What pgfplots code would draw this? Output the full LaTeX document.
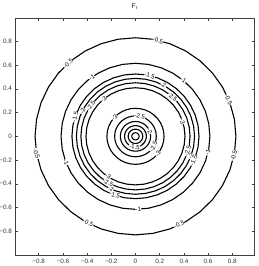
\documentclass[border=0pt]{standalone}
\usepackage{fontspec}
\setmainfont{Liberation Sans}
\usepackage{pgfplots}
\pgfplotsset{compat=1.18}
\usepackage{pgfplotstable}
\usetikzlibrary{calc}
\tikzset{lab/.style={font=\fontsize{6.1}{6.5}\selectfont, fill=white, inner sep=0.2pt, sloped, text=black}}

% contour rings: angle (deg) and radius of each level line
\pgfplotstableread{
a r1 r2 r3 r4 r5 r6 r7 r8 r9 r10 r11 r12
0 0.830 0.615 0.525 0.488 0.451 0.409 0.236 0.172 0.125 0.090 0.060 0.030
10 0.830 0.615 0.525 0.488 0.451 0.409 0.236 0.172 0.125 0.090 0.060 0.030
20 0.830 0.615 0.525 0.488 0.451 0.409 0.236 0.172 0.125 0.090 0.060 0.030
30 0.830 0.615 0.525 0.488 0.451 0.409 0.236 0.172 0.125 0.090 0.060 0.030
40 0.830 0.615 0.525 0.488 0.451 0.409 0.236 0.172 0.125 0.090 0.060 0.030
50 0.830 0.615 0.525 0.488 0.451 0.409 0.236 0.172 0.125 0.090 0.060 0.030
60 0.830 0.615 0.525 0.488 0.451 0.409 0.236 0.172 0.125 0.090 0.060 0.030
70 0.830 0.615 0.525 0.488 0.451 0.409 0.236 0.172 0.125 0.090 0.060 0.030
80 0.830 0.615 0.525 0.488 0.451 0.409 0.236 0.172 0.125 0.090 0.060 0.030
90 0.830 0.615 0.525 0.488 0.451 0.409 0.236 0.172 0.125 0.090 0.060 0.030
100 0.830 0.615 0.525 0.488 0.451 0.409 0.236 0.172 0.125 0.090 0.060 0.030
110 0.830 0.615 0.525 0.488 0.451 0.409 0.236 0.172 0.125 0.090 0.060 0.030
120 0.830 0.615 0.525 0.488 0.451 0.409 0.236 0.172 0.125 0.090 0.060 0.030
130 0.830 0.615 0.525 0.488 0.451 0.409 0.236 0.172 0.125 0.090 0.060 0.030
140 0.830 0.615 0.525 0.488 0.451 0.409 0.236 0.172 0.125 0.090 0.060 0.030
150 0.830 0.615 0.525 0.488 0.451 0.409 0.236 0.172 0.125 0.090 0.060 0.030
160 0.830 0.615 0.525 0.488 0.451 0.409 0.236 0.172 0.125 0.090 0.060 0.030
170 0.830 0.615 0.525 0.488 0.451 0.409 0.236 0.172 0.125 0.090 0.060 0.030
180 0.830 0.615 0.525 0.488 0.451 0.409 0.236 0.172 0.125 0.090 0.060 0.030
190 0.830 0.615 0.525 0.488 0.451 0.409 0.236 0.172 0.125 0.090 0.060 0.030
200 0.830 0.615 0.525 0.488 0.451 0.409 0.236 0.172 0.125 0.090 0.060 0.030
210 0.830 0.615 0.525 0.488 0.451 0.409 0.236 0.172 0.125 0.090 0.060 0.030
220 0.830 0.615 0.525 0.488 0.451 0.409 0.236 0.172 0.125 0.090 0.060 0.030
230 0.830 0.615 0.525 0.488 0.451 0.409 0.236 0.172 0.125 0.090 0.060 0.030
240 0.830 0.615 0.525 0.488 0.451 0.409 0.236 0.172 0.125 0.090 0.060 0.030
250 0.830 0.615 0.525 0.488 0.451 0.409 0.236 0.172 0.125 0.090 0.060 0.030
260 0.830 0.615 0.525 0.488 0.451 0.409 0.236 0.172 0.125 0.090 0.060 0.030
270 0.830 0.615 0.525 0.488 0.451 0.409 0.236 0.172 0.125 0.090 0.060 0.030
280 0.830 0.615 0.525 0.488 0.451 0.409 0.236 0.172 0.125 0.090 0.060 0.030
290 0.830 0.615 0.525 0.488 0.451 0.409 0.236 0.172 0.125 0.090 0.060 0.030
300 0.830 0.615 0.525 0.488 0.451 0.409 0.236 0.172 0.125 0.090 0.060 0.030
310 0.830 0.615 0.525 0.488 0.451 0.409 0.236 0.172 0.125 0.090 0.060 0.030
320 0.830 0.615 0.525 0.488 0.451 0.409 0.236 0.172 0.125 0.090 0.060 0.030
330 0.830 0.615 0.525 0.488 0.451 0.409 0.236 0.172 0.125 0.090 0.060 0.030
340 0.830 0.615 0.525 0.488 0.451 0.409 0.236 0.172 0.125 0.090 0.060 0.030
350 0.830 0.615 0.525 0.488 0.451 0.409 0.236 0.172 0.125 0.090 0.060 0.030
360 0.830 0.615 0.525 0.488 0.451 0.409 0.236 0.172 0.125 0.090 0.060 0.030
}\rings

\begin{document}
\begin{tikzpicture}
\begin{axis}[
  scale only axis,
  width=239pt, height=237pt,
  xmin=-0.993, xmax=0.982, ymin=-1.002, ymax=0.994,
  xtick={-0.8,-0.6,-0.4,-0.2,0,0.2,0.4,0.6,0.8},
  ytick={-0.8,-0.6,-0.4,-0.2,0,0.2,0.4,0.6,0.8},
  xticklabels={−0.8,−0.6,−0.4,−0.2,0,0.2,0.4,0.6,0.8},
  yticklabels={−0.8,−0.6,−0.4,−0.2,0,0.2,0.4,0.6,0.8},
  xtick pos=both, ytick pos=both,
  tick align=inside,
  major tick length=2.5pt,
  tick style={black!75, line width=0.4pt},
  tick label style={font=\fontsize{6.3}{7}\selectfont, text=black!80},
  axis line style={black!75, line width=0.5pt},
  title={F\textsubscript{r}},
  title style={font=\fontsize{7}{7}\selectfont, text=black!85, at={(0.5,1)}, anchor=south, yshift=-1pt},
  every axis plot/.append style={line width=1.1pt, black},
]
\addplot[data cs=polar] table[x=a,y=r1]{\rings};
\addplot[data cs=polar] table[x=a,y=r2]{\rings};
\addplot[data cs=polar] table[x=a,y=r3]{\rings};
\addplot[data cs=polar] table[x=a,y=r4]{\rings};
\addplot[data cs=polar] table[x=a,y=r5]{\rings};
\addplot[data cs=polar] table[x=a,y=r6]{\rings};
\addplot[data cs=polar] table[x=a,y=r7]{\rings};
\addplot[data cs=polar] table[x=a,y=r8]{\rings};
\addplot[data cs=polar] table[x=a,y=r9]{\rings};
\addplot[data cs=polar] table[x=a,y=r10]{\rings};
\addplot[data cs=polar] table[x=a,y=r11]{\rings};
\addplot[data cs=polar] table[x=a,y=r12]{\rings};
% labels
\addplot[draw=none, data cs=polar] table[x=a,y=r1]{\rings}
  node[lab,pos=0.061]{-0.5} node[lab,pos=0.214]{-0.5} node[lab,pos=0.367]{-0.5}
  node[lab,pos=0.528]{-0.5} node[lab,pos=0.672]{-0.5} node[lab,pos=0.822]{-0.5}
  node[lab,pos=0.969]{-0.5};
\addplot[draw=none, data cs=polar] table[x=a,y=r2]{\rings}
  node[lab,pos=0.139]{-1} node[lab,pos=0.35]{-1} node[lab,pos=0.558]{-1}
  node[lab,pos=0.756]{-1} node[lab,pos=0.964]{-1};
\addplot[draw=none, data cs=polar] table[x=a,y=r3]{\rings}
  node[lab,pos=0.214]{-1.5} node[lab,pos=0.45]{-1.5} node[lab,pos=0.697]{-1.5}
  node[lab,pos=0.936]{-1.5};
\addplot[draw=none, data cs=polar] table[x=a,y=r4]{\rings}
  node[lab,pos=0.172]{-2} node[lab,pos=0.428]{-2} node[lab,pos=0.681]{-2}
  node[lab,pos=0.944]{-2};
\addplot[draw=none, data cs=polar] table[x=a,y=r5]{\rings}
  node[lab,pos=0.131]{-2.5} node[lab,pos=0.403]{-2.5} node[lab,pos=0.667]{-2.5}
  node[lab,pos=0.956]{-2.5};
\addplot[draw=none, data cs=polar] table[x=a,y=r6]{\rings}
  node[lab,pos=0.05]{-3} node[lab,pos=0.361]{-3} node[lab,pos=0.656]{-3};
\addplot[draw=none, data cs=polar] table[x=a,y=r7]{\rings}
  node[lab,pos=0.381]{-3} node[lab,pos=0.894]{-3};
\addplot[draw=none, data cs=polar] table[x=a,y=r8]{\rings}
  node[lab,pos=0.217]{-2.5} node[lab,pos=0.917]{-2.5};
\addplot[draw=none, data cs=polar] table[x=a,y=r9]{\rings}
  node[lab,pos=0.058]{-2};
\addplot[draw=none, data cs=polar] table[x=a,y=r10]{\rings}
  node[lab,pos=0.736]{-1.5};
\end{axis}
\pgfresetboundingbox
\path ($(current axis.south west)+(-15.3pt,-10.7pt)$) rectangle ($(current axis.north east)+(3.7pt,18.3pt)$);
\end{tikzpicture}
\end{document}
